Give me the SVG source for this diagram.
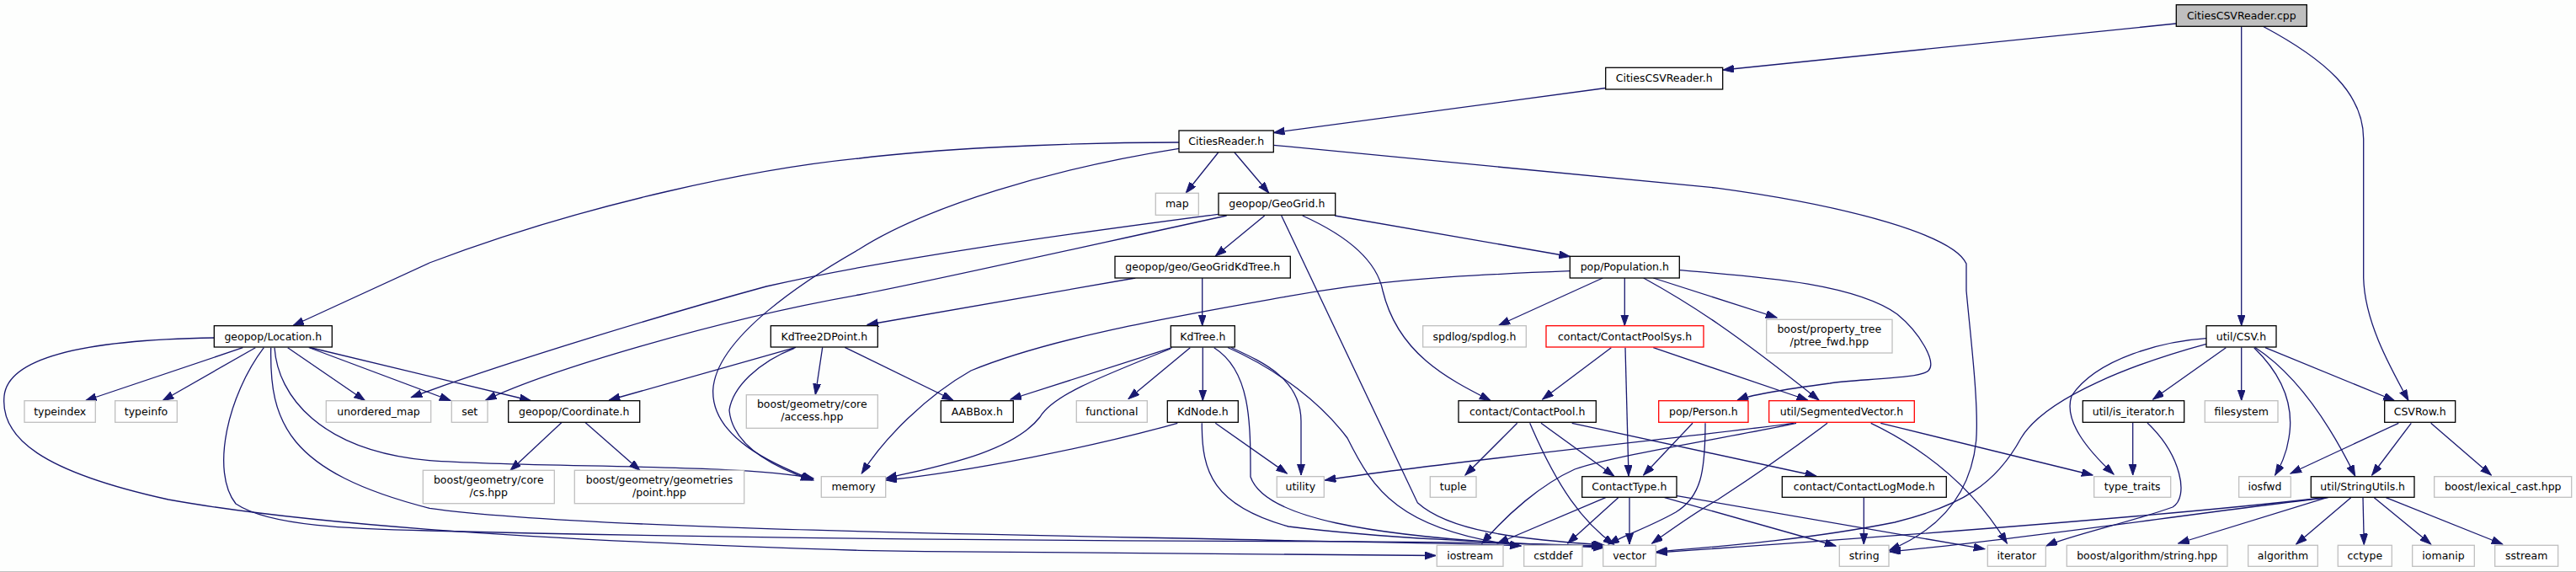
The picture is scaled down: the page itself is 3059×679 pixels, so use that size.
<svg xmlns="http://www.w3.org/2000/svg" width="3059" height="679" viewBox="0 0 3059 679">
<defs>
<style>
.n rect{fill:#ffffff;stroke:#000000;stroke-width:1.3}
.x rect{fill:#ffffff;stroke:#bfbfbf;stroke-width:1.3}
.r rect{fill:#ffffff;stroke:#ff0000;stroke-width:1.3}
.root rect{fill:#bfbfbf;stroke:#000000;stroke-width:1.3}
text{font-family:"DejaVu Sans","Liberation Sans",sans-serif;font-size:12.5px;fill:#000000;text-anchor:middle}
#edges path{fill:none;stroke:#191970;stroke-width:1.3;marker-end:url(#ah)}
</style>
<marker id="ah" markerUnits="userSpaceOnUse" markerWidth="14" markerHeight="10" refX="13" refY="4.5" orient="auto">
<path d="M0,0 L13,4.5 L0,9 z" fill="#191970" stroke="#191970" stroke-width="1"/>
</marker>
</defs>
<rect x="0" y="0" width="3059" height="679" fill="#fdfefd"/>
<line x1="0" y1="678.5" x2="3059" y2="678.5" stroke="#c0c0c0" stroke-width="1"/>
<g id="edges">
<path d="M2584,28 L2046,83"/>
<path d="M2661.7,31.5 L2661.7,386.5"/>
<path d="M2687.7,31.5 C2760,70 2806.7,110 2806.7,165 L2806.7,330 C2808,380 2835,430 2860,475.5"/>
<path d="M1906.7,104.5 L1512.5,157.5"/>
<path d="M1446.7,181 L1408.3,229"/>
<path d="M1466,181 L1506.7,229"/>
<path d="M1400,169 C1250,169 1100,178 1020,188 C900,200 700,240 510,312 L348,386.5"/>
<path d="M1400,176.3 C1250,200 1100,245 1020,296 C960,330 850,400 846.7,463 C845,520 920,552 966,570"/>
<path d="M1512.3,172.3 L2040,223.3 C2200,245 2320,280 2335,313 L2335,345 C2340,400 2350,480 2346.7,523 C2340,590 2300,630 2243.3,653.3"/>
<path d="M288.3,412.7 L101.7,475.5"/>
<path d="M303.3,412.7 L193.3,475.5"/>
<path d="M341.7,412.7 L433.3,475.5"/>
<path d="M366.7,412.5 L535,475.5"/>
<path d="M368,412.5 L630,475.5"/>
<path d="M326,412.7 C330,470 380,535 510,546.7 C640,556 880,550 966,568"/>
<path d="M321.7,412.7 C320,500 340,560 510,603.3 C700,630 1300,636 1530,641.7 C1650,644 1750,645 1806,648"/>
<path d="M313.3,412.7 C270,470 250,560 280,598 C320,625 420,628 510,630 C900,640 1300,642 1530,642.7 C1650,643 1800,644 1903,648"/>
<path d="M254.3,401 C120,403 10,420 5,470 C0,520 50,560 200,593 C350,620 600,640 1020,653.3 C1300,658 1600,659.5 1705,659.5"/>
<path d="M1446.7,254.3 C1250,280 1050,308 910,340 C800,370 600,430 488.3,471.7"/>
<path d="M1456.7,256 C1300,290 1100,335 1020,350 C850,380 650,440 576.7,475"/>
<path d="M1501.7,256 L1443.3,304"/>
<path d="M1585,256 L1864.3,304.5"/>
<path d="M1546.7,256 C1600,280 1635,310 1642,345 C1660,420 1720,450 1770,475.5"/>
<path d="M1521.7,256 L1683.3,596.7 C1720,630 1800,640 1905,647"/>
<path d="M1864.3,321.7 C1700,328 1620,335 1530,351.7 C1400,375 1250,400 1153,440 C1100,470 1050,520 1023.3,562"/>
<path d="M1903.3,330 L1780,386"/>
<path d="M1929.3,330 L1929.3,386.5"/>
<path d="M1951.7,330 C2010,362 2060,395 2160,475"/>
<path d="M1963.3,330 L2110,377"/>
<path d="M1994.3,320.7 C2080,328 2200,335 2253,373 C2280,395 2300,430 2290,440 C2280,450 2200,450 2173,455 C2120,462 2080,468 2063.3,475"/>
<path d="M1348.3,330 L1030,385.5"/>
<path d="M1427.7,330 L1427.7,386.5"/>
<path d="M945,412.3 L723.3,475"/>
<path d="M976.7,412.3 L968.3,468.5"/>
<path d="M943.3,413.3 C900,430 870,460 866,487 C870,530 920,555 964,570"/>
<path d="M1003.3,412.3 L1131.7,475"/>
<path d="M667,501.5 L606,558.5"/>
<path d="M695,501.5 L760,558.5"/>
<path d="M1428.3,412.5 L1428.3,475.5"/>
<path d="M1413.3,412.7 L1340,473.5"/>
<path d="M1391.7,412.7 L1200,474"/>
<path d="M1390,414 C1300,450 1250,470 1235,495 C1200,540 1100,556 1052,568"/>
<path d="M1462,412.5 C1500,430 1545,450 1545,500 L1545,564"/>
<path d="M1458,412.5 C1520,440 1570,480 1600,520 C1630,580 1660,630 1806,648"/>
<path d="M1441.7,412.7 C1485,440 1485,500 1485,566 C1500,610 1600,640 1905,650"/>
<path d="M1398.3,502.3 C1300,530 1150,560 1052,570"/>
<path d="M1443.3,502.3 L1528.3,562"/>
<path d="M1427.3,502.3 C1427,560 1440,600 1530,625 C1650,640 1800,645 1905,649"/>
<path d="M1913.3,412.7 L1831.7,474"/>
<path d="M1930,412.7 L1934,565"/>
<path d="M1963.3,412.7 L2146.7,475"/>
<path d="M1801.7,502.3 L1740,564"/>
<path d="M1830,502.3 L1916.7,565"/>
<path d="M1816.7,502.3 C1850,580 1880,620 1916.7,646.5"/>
<path d="M1866.7,502.3 L2156.7,565"/>
<path d="M2010,502.3 L1951.7,564"/>
<path d="M2025,502.3 C2025,560 2020,590 1990,608 C1960,625 1930,635 1910,646"/>
<path d="M2130,502.3 C2000,520 1700,550 1573.3,570"/>
<path d="M2133,502.3 C2050,520 1920,540 1870,557 C1830,575 1790,610 1760,645"/>
<path d="M2170,502.3 C2120,540 2060,580 2040,593 C2010,610 1990,625 1961.7,645"/>
<path d="M2221.7,502.3 C2300,540 2350,590 2383.3,645"/>
<path d="M2233.3,502.3 L2485,564"/>
<path d="M1906.7,590.7 L1778.3,645"/>
<path d="M1921.7,590.7 L1861.7,645"/>
<path d="M1935,590.7 L1935,646"/>
<path d="M1976.7,590.7 L2180,648"/>
<path d="M1990,588.3 L2356.7,651.7"/>
<path d="M2213.3,590.7 L2213.3,646"/>
<path d="M2620,401.7 C2570,405 2490,425 2460,470 C2450,500 2480,535 2510,563"/>
<path d="M2620,408.3 C2540,430 2430,470 2400,520 C2370,575 2330,600 2250,620 C2150,640 2050,648 1966.7,655"/>
<path d="M2643.3,412.7 L2556.7,474"/>
<path d="M2661.7,412.5 L2661.7,475.5"/>
<path d="M2676.7,412.7 C2710,445 2725,480 2718,520 C2715,540 2708,553 2701.7,564"/>
<path d="M2678,412.5 C2720,440 2760,490 2796.7,565"/>
<path d="M2690,412.7 L2843.3,475.5"/>
<path d="M2532.7,502 L2532.7,564"/>
<path d="M2550,502 C2590,540 2600,590 2580,602 C2530,620 2460,635 2430,648"/>
<path d="M2848.3,502.3 L2720,562"/>
<path d="M2863.3,502.3 L2816.7,564"/>
<path d="M2886.7,502.3 L2958.3,564"/>
<path d="M2791.7,590.7 L2726.7,646"/>
<path d="M2806,590.7 L2807.3,646.5"/>
<path d="M2819.3,590.7 L2886.7,646"/>
<path d="M2833.3,590.7 L2971.7,646"/>
<path d="M2763.3,590.7 L2586.7,645"/>
<path d="M2765,590.5 C2600,610 2400,640 2244,655"/>
<path d="M2762,590.5 C2550,615 2200,640 1967,656"/>
</g>
<g id="n-root" class="root"><rect x="2584.3" y="5.7" width="155" height="25.6"/><text x="2661.8" y="22.5">CitiesCSVReader.cpp</text></g>
<g id="n-citiescsvreader-h" class="n"><rect x="1906.7" y="80.3" width="139" height="25.7"/><text x="1976.2" y="97.1">CitiesCSVReader.h</text></g>
<g id="n-citiesreader-h" class="n"><rect x="1400" y="155" width="112.3" height="25.7"/><text x="1456.2" y="171.8">CitiesReader.h</text></g>
<g id="n-map" class="x"><rect x="1372.3" y="229.3" width="51" height="26"/><text x="1397.8" y="246.3">map</text></g>
<g id="n-geogrid" class="n"><rect x="1447" y="229.3" width="138.7" height="26"/><text x="1516.3" y="246.3">geopop/GeoGrid.h</text></g>
<g id="n-geogridkdtree" class="n"><rect x="1324" y="304.3" width="208.3" height="25.7"/><text x="1428.2" y="321.1">geopop/geo/GeoGridKdTree.h</text></g>
<g id="n-population" class="n"><rect x="1864.3" y="304.3" width="130" height="25.7"/><text x="1929.3" y="321.1">pop/Population.h</text></g>
<g id="n-location" class="n"><rect x="254.3" y="386.7" width="140" height="25.3"/><text x="324.3" y="403.5">geopop/Location.h</text></g>
<g id="n-kdtree2dpoint" class="n"><rect x="915.3" y="386.7" width="127" height="25.3"/><text x="978.8" y="403.5">KdTree2DPoint.h</text></g>
<g id="n-kdtree" class="n"><rect x="1390.3" y="386.7" width="76" height="25.3"/><text x="1428.3" y="403.5">KdTree.h</text></g>
<g id="n-spdlog" class="x"><rect x="1689.7" y="386.7" width="122.6" height="25.3"/><text x="1751" y="403.5">spdlog/spdlog.h</text></g>
<g id="n-contactpoolsys" class="r"><rect x="1836" y="386.7" width="187" height="25.3"/><text x="1929.5" y="403.5">contact/ContactPoolSys.h</text></g>
<g id="n-ptree-fwd" class="x"><rect x="2097.7" y="379.3" width="149.3" height="39.7"/><text x="2172.3" y="394.5">boost/property_tree</text><text x="2172.3" y="409.5">/ptree_fwd.hpp</text></g>
<g id="n-csv" class="n"><rect x="2620" y="386.7" width="83" height="25.3"/><text x="2661.5" y="403.5">util/CSV.h</text></g>
<g id="n-typeindex" class="x"><rect x="29" y="475.7" width="84.3" height="25.6"/><text x="71.2" y="492.5">typeindex</text></g>
<g id="n-typeinfo" class="x"><rect x="136.7" y="475.7" width="73.6" height="25.6"/><text x="173.5" y="492.5">typeinfo</text></g>
<g id="n-unordered-map" class="x"><rect x="387.3" y="475.7" width="124.4" height="25.6"/><text x="449.5" y="492.5">unordered_map</text></g>
<g id="n-set" class="x"><rect x="536.3" y="475.7" width="42.7" height="25.6"/><text x="557.7" y="492.5">set</text></g>
<g id="n-coordinate" class="n"><rect x="603.7" y="475.7" width="156" height="25.6"/><text x="681.7" y="492.5">geopop/Coordinate.h</text></g>
<g id="n-access" class="x"><rect x="886.3" y="468.7" width="156" height="39.6"/><text x="964.3" y="484">boost/geometry/core</text><text x="964.3" y="499">/access.hpp</text></g>
<g id="n-aabbox" class="n"><rect x="1117.3" y="475.7" width="86" height="25.6"/><text x="1160.3" y="492.5">AABBox.h</text></g>
<g id="n-functional" class="x"><rect x="1278.3" y="475.7" width="84" height="25.6"/><text x="1320.3" y="492.5">functional</text></g>
<g id="n-kdnode" class="n"><rect x="1386.3" y="475.7" width="84" height="25.6"/><text x="1428.3" y="492.5">KdNode.h</text></g>
<g id="n-contactpool" class="n"><rect x="1732" y="475.7" width="163.3" height="25.6"/><text x="1813.7" y="492.5">contact/ContactPool.h</text></g>
<g id="n-person" class="r"><rect x="1969.7" y="475.7" width="106.3" height="25.6"/><text x="2022.8" y="492.5">pop/Person.h</text></g>
<g id="n-segmentedvector" class="r"><rect x="2100.7" y="475.7" width="172.6" height="25.6"/><text x="2187" y="492.5">util/SegmentedVector.h</text></g>
<g id="n-is-iterator" class="n"><rect x="2473.3" y="475.7" width="120.4" height="25.6"/><text x="2533.5" y="492.5">util/is_iterator.h</text></g>
<g id="n-filesystem" class="x"><rect x="2618.3" y="475.7" width="86.7" height="25.6"/><text x="2661.7" y="492.5">filesystem</text></g>
<g id="n-csvrow" class="n"><rect x="2831.7" y="475.7" width="84" height="25.6"/><text x="2873.7" y="492.5">CSVRow.h</text></g>
<g id="n-cs" class="x"><rect x="502.3" y="558.3" width="156" height="39.4"/><text x="580.3" y="574">boost/geometry/core</text><text x="580.3" y="589">/cs.hpp</text></g>
<g id="n-point" class="x"><rect x="682.3" y="558.3" width="201.4" height="39.4"/><text x="783" y="574">boost/geometry/geometries</text><text x="783" y="589">/point.hpp</text></g>
<g id="n-memory" class="x"><rect x="975.3" y="565.7" width="76.4" height="24.6"/><text x="1013.5" y="582.2">memory</text></g>
<g id="n-utility" class="x"><rect x="1516.3" y="565.7" width="56" height="24.6"/><text x="1544.3" y="582.2">utility</text></g>
<g id="n-tuple" class="x"><rect x="1698.3" y="565.7" width="54.7" height="24.6"/><text x="1725.7" y="582.2">tuple</text></g>
<g id="n-contacttype" class="n"><rect x="1878.7" y="565.7" width="112.3" height="24.6"/><text x="1934.8" y="582.2">ContactType.h</text></g>
<g id="n-contactlogmode" class="n"><rect x="2116.3" y="565.7" width="195" height="24.6"/><text x="2213.8" y="582.2">contact/ContactLogMode.h</text></g>
<g id="n-type-traits" class="x"><rect x="2486.7" y="565.7" width="91" height="24.6"/><text x="2532.2" y="582.2">type_traits</text></g>
<g id="n-iosfwd" class="x"><rect x="2658.7" y="565.7" width="61.6" height="24.6"/><text x="2689.5" y="582.2">iosfwd</text></g>
<g id="n-stringutils" class="n"><rect x="2744.3" y="565.7" width="122.7" height="24.6"/><text x="2805.7" y="582.2">util/StringUtils.h</text></g>
<g id="n-lexical-cast" class="x"><rect x="2890.7" y="565.7" width="163" height="24.6"/><text x="2972.2" y="582.2">boost/lexical_cast.hpp</text></g>
<g id="n-iostream" class="x"><rect x="1706.3" y="647.3" width="78.7" height="25"/><text x="1745.7" y="664">iostream</text></g>
<g id="n-cstddef" class="x"><rect x="1809.7" y="647.3" width="69.3" height="25"/><text x="1844.3" y="664">cstddef</text></g>
<g id="n-vector" class="x"><rect x="1903.7" y="647.3" width="62.6" height="25"/><text x="1935" y="664">vector</text></g>
<g id="n-string" class="x"><rect x="2184.3" y="647.3" width="58.7" height="25"/><text x="2213.7" y="664">string</text></g>
<g id="n-iterator" class="x"><rect x="2360.3" y="647.3" width="69" height="25"/><text x="2394.8" y="664">iterator</text></g>
<g id="n-algo-string" class="x"><rect x="2454.3" y="647.3" width="190.7" height="25"/><text x="2549.7" y="664">boost/algorithm/string.hpp</text></g>
<g id="n-algorithm" class="x"><rect x="2669.7" y="647.3" width="82.6" height="25"/><text x="2711" y="664">algorithm</text></g>
<g id="n-cctype" class="x"><rect x="2776.3" y="647.3" width="64" height="25"/><text x="2808.3" y="664">cctype</text></g>
<g id="n-iomanip" class="x"><rect x="2864.7" y="647.3" width="73.6" height="25"/><text x="2901.5" y="664">iomanip</text></g>
<g id="n-sstream" class="x"><rect x="2962.7" y="647.3" width="75" height="25"/><text x="3000.2" y="664">sstream</text></g>
</svg>
